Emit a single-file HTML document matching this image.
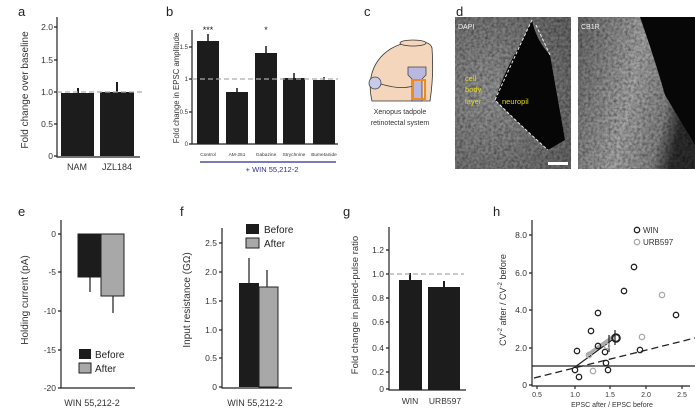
<!DOCTYPE html><html><head><style>body{margin:0;background:#fff}svg{display:block}text{font-family:"Liberation Sans",sans-serif}</style></head><body>
<svg width="695" height="411" viewBox="0 0 695 411" xmlns="http://www.w3.org/2000/svg">
<defs>
<radialGradient id="g1" cx="0.3" cy="0.5" r="0.8"><stop offset="0" stop-color="#999"/><stop offset="1" stop-color="#6a6a6a"/></radialGradient>
<linearGradient id="g2" x1="0" y1="0" x2="1" y2="0.3"><stop offset="0" stop-color="#6d6d6d"/><stop offset="0.55" stop-color="#aaa"/><stop offset="0.85" stop-color="#888"/><stop offset="1" stop-color="#333"/></linearGradient>
<filter id="n" x="0" y="0" width="1" height="1"><feTurbulence type="fractalNoise" baseFrequency="0.35" numOctaves="2" result="t"/><feColorMatrix in="t" type="matrix" values="0 0 0 0 0  0 0 0 0 0  0 0 0 0 0  0 0 0 -1.2 0.9" result="m"/><feComposite in="m" in2="SourceGraphic" operator="in" result="d"/><feMerge><feMergeNode in="SourceGraphic"/><feMergeNode in="d"/></feMerge></filter>
</defs>
<g font-size="13" fill="#222"><text x="18" y="16">a</text><text x="166" y="16">b</text><text x="364" y="16">c</text><text x="456" y="16">d</text><text x="18" y="216">e</text><text x="180" y="216">f</text><text x="343" y="216">g</text><text x="493" y="216">h</text></g>

<!-- a -->
<g stroke="#222" stroke-width="1.2" fill="none"><path d="M57 17V157H140"/><path d="M54 27h3M54 60h3M54 92h3M54 124h3M54 156h3"/></g>
<g font-size="8.5" fill="#333" text-anchor="end"><text x="53" y="30">2.0</text><text x="53" y="63">1.5</text><text x="53" y="95">1.0</text><text x="53" y="127">0.5</text><text x="53" y="159">0</text></g>
<rect x="61" y="93" width="33" height="63" fill="#1c1c1c"/><rect x="100" y="92" width="34" height="64" fill="#1c1c1c"/>
<path d="M78 93V88M117 92V82" stroke="#1c1c1c" stroke-width="2"/>
<path d="M57 92H142" stroke="#aaa" stroke-width="1.3" stroke-dasharray="5,3"/>
<g font-size="9" fill="#333" text-anchor="middle"><text x="77" y="170">NAM</text><text x="117" y="170">JZL184</text>
<text transform="translate(28,90) rotate(-90)" font-size="10">Fold change over baseline</text></g>

<!-- b -->
<g stroke="#222" stroke-width="1.2" fill="none"><path d="M192 30V144H338"/><path d="M189 47h3M189 79h3M189 112h3M189 144h3"/></g>
<g font-size="6" fill="#333" text-anchor="end"><text x="188" y="49">1.5</text><text x="188" y="81">1</text><text x="188" y="114">0.5</text><text x="188" y="146">0</text></g>
<g fill="#1c1c1c"><rect x="197" y="41" width="22" height="103"/><rect x="226" y="92" width="22" height="52"/><rect x="255" y="53" width="22" height="91"/><rect x="283" y="78" width="22" height="66"/><rect x="313" y="80" width="22" height="64"/></g>
<path d="M208 41V34M237 92V88M266 53V46M294 78V73M324 80V77" stroke="#1c1c1c" stroke-width="1.5"/>
<path d="M192 79H338" stroke="#aaa" stroke-width="1.3" stroke-dasharray="5,3"/>
<g font-size="9" fill="#222" text-anchor="middle"><text x="208" y="33">***</text><text x="266" y="33">*</text></g>
<g font-size="4.8" fill="#333" text-anchor="middle"><text x="208" y="156">Control</text><text x="237" y="156">AM-251</text><text x="266" y="156">Gabazine</text><text x="294" y="156">Strychnine</text><text x="324" y="156">Bumetanide</text></g>
<path d="M200 162H336" stroke="#2a2f8f" stroke-width="1.2"/>
<text x="272" y="172" font-size="7.5" fill="#2a2f8f" text-anchor="middle">+ WIN 55,212-2</text>
<text transform="translate(179,88) rotate(-90)" font-size="7.8" fill="#333" text-anchor="middle">Fold change in EPSC amplitude</text>

<!-- c -->
<path d="M372 101 Q366 75 380 58 Q392 44 412 42 Q430 40 432 48 Q434 75 430 101Z" fill="#f4d6bd" stroke="#333" stroke-width="0.8"/>
<ellipse cx="413" cy="43" rx="13" ry="3" fill="#f4d6bd" stroke="#333" stroke-width="0.8"/>
<circle cx="375" cy="83" r="6" fill="#c9c9ea" stroke="#444" stroke-width="0.8"/>
<path d="M381 84 Q400 90 413 86" stroke="#333" fill="none" stroke-width="0.8"/>
<path d="M408 67h18v8l-4 4v22h-10v-22l-4-4z" fill="#b8b8e0" stroke="#444" stroke-width="0.8"/>
<rect x="413" y="80" width="12" height="19" fill="none" stroke="#f08a1c" stroke-width="2"/>
<g font-size="7" fill="#333" text-anchor="middle"><text x="400" y="114">Xenopus tadpole</text><text x="400" y="125">retinotectal system</text></g>

<!-- d -->
<rect x="455" y="17" width="116" height="152" fill="url(#g1)" filter="url(#n)"/>
<path d="M532 20 Q536 40 550 55 L565 140 L548 150 Q520 125 495 100 Q505 70 520 45Z" fill="#060606"/>
<path d="M532 20 Q520 45 495 100 Q520 125 548 150 M536 25 L550 55" stroke="#eee" stroke-width="1" stroke-dasharray="3,2" fill="none"/>
<rect x="548" y="162" width="20" height="3" fill="#fff"/>
<text x="458" y="29" font-size="7" fill="#eee">DAPI</text>
<g font-size="7.5" fill="#e0d81c"><text x="465" y="81">cell</text><text x="465" y="92">body</text><text x="465" y="104">layer</text><text x="502" y="104">neuropil</text></g>
<rect x="578" y="17" width="117" height="152" fill="url(#g2)" filter="url(#n)"/>
<path d="M640 17H695V145Q680 120 665 95Q655 60 640 17Z" fill="#070707"/>
<text x="581" y="29" font-size="7" fill="#eee">CB1R</text>

<!-- e -->
<g stroke="#222" stroke-width="1.2" fill="none"><path d="M61 220V388H135"/><path d="M58 234h3M58 272h3M58 311h3M58 350h3M58 388h3"/></g>
<g font-size="8.5" fill="#333" text-anchor="end"><text x="56" y="237">0</text><text x="56" y="275">-5</text><text x="56" y="314">-10</text><text x="56" y="353">-15</text><text x="56" y="391">-20</text></g>
<path d="M90 277V292M113 296V313" stroke="#1c1c1c" stroke-width="1.2"/>
<rect x="78" y="234" width="23" height="43" fill="#1c1c1c" stroke="#1c1c1c"/><rect x="101" y="234" width="23" height="62" fill="#a8a8a8" stroke="#222"/>
<rect x="79" y="349" width="12" height="10" fill="#1c1c1c"/><rect x="79" y="363" width="12" height="10" fill="#a8a8a8" stroke="#222"/>
<g font-size="10" fill="#222"><text x="95" y="358">Before</text><text x="95" y="372">After</text></g>
<text x="92" y="406" font-size="9" fill="#333" text-anchor="middle">WIN 55,212-2</text>
<text transform="translate(28,300) rotate(-90)" font-size="10" fill="#333" text-anchor="middle">Holding current (pA)</text>

<!-- f -->
<g stroke="#222" stroke-width="1.2" fill="none"><path d="M222 228V388H292"/><path d="M219 243h3M219 272h3M219 301h3M219 330h3M219 358h3M219 387h3"/></g>
<g font-size="8.5" fill="#333" text-anchor="end"><text x="217" y="246">2.5</text><text x="217" y="275">2.0</text><text x="217" y="304">1.5</text><text x="217" y="333">1.0</text><text x="217" y="361">0.5</text><text x="217" y="390">0</text></g>
<path d="M249 283V258M267 287V270" stroke="#1c1c1c" stroke-width="1.2"/>
<rect x="239" y="283" width="20" height="104" fill="#1c1c1c"/><rect x="259" y="287" width="19" height="100" fill="#a8a8a8" stroke="#222"/>
<rect x="246" y="224" width="13" height="10" fill="#1c1c1c"/><rect x="246" y="238" width="13" height="10" fill="#a8a8a8" stroke="#222"/>
<g font-size="10" fill="#222"><text x="264" y="233">Before</text><text x="264" y="247">After</text></g>
<text x="255" y="406" font-size="9" fill="#333" text-anchor="middle">WIN 55,212-2</text>
<text transform="translate(190,300) rotate(-90)" font-size="10" fill="#333" text-anchor="middle">Input resistance (GΩ)</text>

<!-- g -->
<g stroke="#222" stroke-width="1.2" fill="none"><path d="M389 227V390H466"/><path d="M386 250h3M386 274h3M386 298h3M386 322h3M386 348h3M386 372h3M386 389h3"/></g>
<g font-size="8.5" fill="#333" text-anchor="end"><text x="384" y="253">1.2</text><text x="384" y="277">1.0</text><text x="384" y="301">0.8</text><text x="384" y="325">0.6</text><text x="384" y="351">0.4</text><text x="384" y="375">0.2</text><text x="384" y="392">0</text></g>
<rect x="399" y="280" width="23" height="110" fill="#1c1c1c"/><rect x="428" y="287" width="32" height="103" fill="#1c1c1c"/>
<path d="M410 280V273M444 287V281" stroke="#1c1c1c" stroke-width="2"/>
<path d="M389 274H464" stroke="#aaa" stroke-width="1.3" stroke-dasharray="5,3"/>
<g font-size="8.5" fill="#333" text-anchor="middle"><text x="410" y="404">WIN</text><text x="445" y="404">URB597</text></g>
<text transform="translate(358,305) rotate(-90)" font-size="9.5" fill="#333" text-anchor="middle">Fold change in paired-pulse ratio</text>

<!-- h -->
<g stroke="#222" stroke-width="1.2" fill="none"><path d="M532 220V386H690"/><path d="M529 235h3M529 273h3M529 310h3M529 348h3M529 385h3M537 386v3M575 386v3M610 386v3M646 386v3M682 386v3"/></g>
<g font-size="8.5" fill="#333" text-anchor="end"><text x="527" y="238">8.0</text><text x="527" y="276">6.0</text><text x="527" y="313">4.0</text><text x="527" y="351">2.0</text><text x="527" y="388">0</text></g>
<g font-size="7" fill="#333" text-anchor="middle"><text x="537" y="397">0.5</text><text x="575" y="397">1.0</text><text x="610" y="397">1.5</text><text x="646" y="397">2.0</text><text x="682" y="397">2.5</text><text x="612" y="407">EPSC after / EPSC before</text></g>
<text transform="translate(506,300) rotate(-90)" font-size="9" fill="#333" text-anchor="middle">CV<tspan font-size="6" dy="-4">-2</tspan><tspan dy="4"> after / CV</tspan><tspan font-size="6" dy="-4">-2</tspan><tspan dy="4"> before</tspan></text>
<path d="M532 366H695" stroke="#222" stroke-width="1.2"/>
<path d="M534 378L695 338" stroke="#222" stroke-width="1.3" stroke-dasharray="7,4"/>
<path d="M587 355L615 335" stroke="#aaa" stroke-width="3"/>
<path d="M575 367L612 340" stroke="#222" stroke-width="1.2"/>
<path d="M615 330V345M609 335V352" stroke="#222" stroke-width="1.2"/>
<g fill="none" stroke="#222" stroke-width="1.3"><circle cx="577" cy="351" r="2.7"/><circle cx="575" cy="370" r="2.7"/><circle cx="579" cy="377" r="2.7"/><circle cx="591" cy="331" r="2.7"/><circle cx="598" cy="313" r="2.7"/><circle cx="598" cy="346" r="2.7"/><circle cx="605" cy="352" r="2.7"/><circle cx="606" cy="363" r="2.7"/><circle cx="608" cy="370" r="2.7"/><circle cx="624" cy="291" r="2.7"/><circle cx="634" cy="267" r="2.7"/><circle cx="640" cy="350" r="2.7"/><circle cx="676" cy="315" r="2.7"/><circle cx="616" cy="338" r="3.8" stroke-width="2"/><circle cx="637" cy="230" r="2.7"/></g>
<g fill="none" stroke="#aaa" stroke-width="1.3"><circle cx="589" cy="355" r="2.7"/><circle cx="593" cy="371" r="2.7"/><circle cx="607" cy="346" r="2.7"/><circle cx="642" cy="337" r="2.7"/><circle cx="662" cy="295" r="2.7"/><circle cx="637" cy="242" r="2.7"/></g>
<g font-size="8" fill="#333"><text x="643" y="233">WIN</text><text x="643" y="245">URB597</text></g>
</svg></body></html>
